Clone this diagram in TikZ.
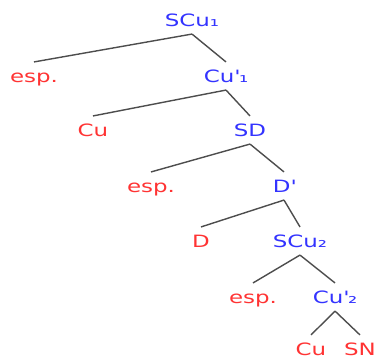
\documentclass[tikz,border=0pt]{standalone}
\usepackage{fontspec}
\setmainfont{DejaVu Sans}[FakeStretch=1.35]
\definecolor{phrase}{HTML}{3333FF}
\definecolor{head}{HTML}{FF3333}
\definecolor{branch}{HTML}{4D4D4D}

\begin{document}
\begin{tikzpicture}[
  x=0.03cm, y=-0.03cm,
  font=\fontsize{14.5}{16}\selectfont,
  lbl/.style={inner xsep=1pt, inner ysep=6.5pt, text height=10.6pt, text depth=0pt},
  phr/.style={lbl, text=phrase},
  hd/.style={lbl, text=head},
  edge/.style={draw=branch, line width=1.2pt}
]
\useasboundingbox (0,0) rectangle (377,358);

% labels
\node[phr] (scu1) at (192,20) {SCu₁};
\node[hd]  (esp1) at (34,76) {esp.};
\node[phr] (cub1) at (226,76) {Cu\textquotesingle₁};
\node[hd]  (cu1)  at (93,130) {Cu};
\node[phr] (sd)   at (250,130) {SD};
\node[hd]  (esp2) at (151,186) {esp.};
\node[phr] (db)   at (284,186) {D\textquotesingle};
\node[hd]  (d)    at (201,241) {D};
\node[phr] (scu2) at (300,241) {SCu₂};
\node[hd]  (esp3) at (253,297) {esp.};
\node[phr] (cub2) at (335,297) {Cu\textquotesingle₂};
\node[hd]  (cu2)  at (311,349) {Cu};
\node[hd]  (sn)   at (360,349) {SN};

% branches
\foreach \p/\c in {scu1/esp1, scu1/cub1, cub1/cu1, cub1/sd, sd/esp2, sd/db,
  db/d, db/scu2, scu2/esp3, scu2/cub2, cub2/cu2, cub2/sn}
  \draw[edge] (\p.south) -- (\c.north);

\end{tikzpicture}
\end{document}
